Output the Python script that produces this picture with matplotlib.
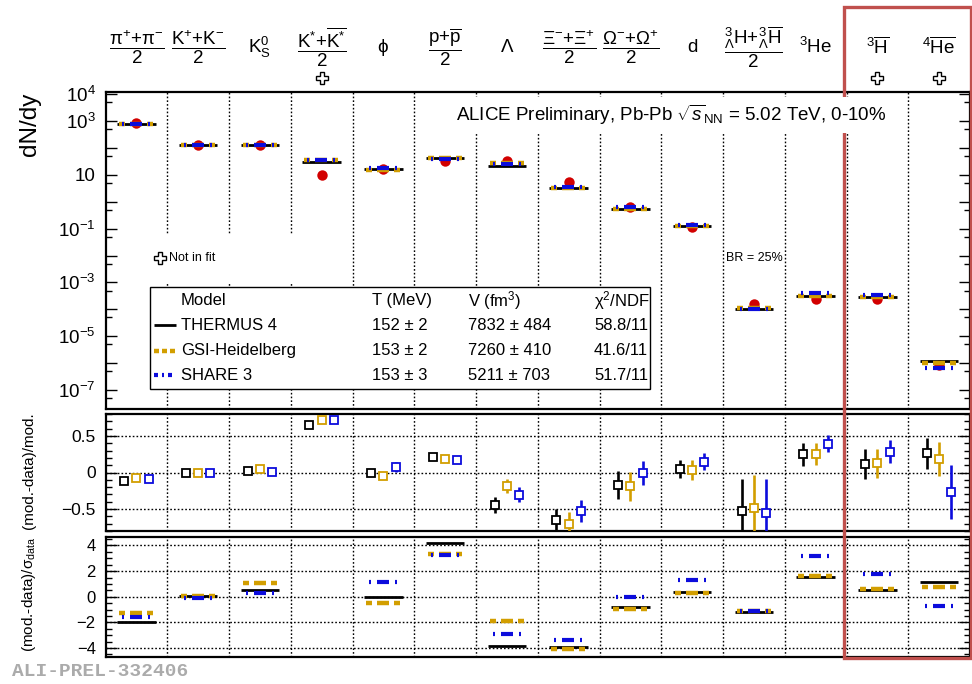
import numpy as np
import matplotlib
matplotlib.use("Agg")
import matplotlib.pyplot as plt
from matplotlib.lines import Line2D
from matplotlib.patches import Rectangle
from matplotlib.ticker import FixedLocator, FixedFormatter, NullFormatter, MultipleLocator

plt.rcParams["font.family"] = ["Liberation Sans", "DejaVu Sans"]
plt.rcParams["mathtext.fontset"] = "custom"
plt.rcParams["mathtext.rm"] = "Liberation Sans"
plt.rcParams["mathtext.it"] = "Liberation Sans:italic"
plt.rcParams["mathtext.bf"] = "Liberation Sans:bold"
plt.rcParams["mathtext.sf"] = "Liberation Sans"
plt.rcParams["lines.scale_dashes"] = False

# ---------------------------------------------------------------- data
species = [
    r"$\dfrac{\mathrm{\pi}^{+}{+}\mathrm{\pi}^{-}}{2}$",
    r"$\dfrac{\mathrm{K}^{+}{+}\mathrm{K}^{-}}{2}$",
    r"$\mathrm{K}^{0}_{\mathrm{S}}$",
    r"$\dfrac{\mathrm{K}^{*}{+}\overline{\mathrm{K}^{*}}}{2}$",
    r"$\mathrm{\phi}$",
    r"$\dfrac{\mathrm{p}{+}\overline{\mathrm{p}}}{2}$",
    r"$\Lambda$",
    r"$\dfrac{\Xi^{-}{+}\Xi^{+}}{2}$",
    r"$\dfrac{\Omega^{-}{+}\Omega^{+}}{2}$",
    "d",
    r"$\dfrac{{}^{3}_{\Lambda}\mathrm{H}{+}{}^{3}_{\Lambda}\overline{\mathrm{H}}}{2}$",
    r"$^{3}$He",
    r"$^{3}\overline{\mathrm{H}}$",
    r"$^{4}\overline{\mathrm{He}}$",
]
not_in_fit = [3, 12, 13]

# measured dN/dy
data_yield = [860, 127, 126, 10.2, 16.0, 33.5, 32.0, 5.4, 0.63, 0.12,
              1.6e-4, 2.35e-4, 2.5e-4, 8.5e-7]

# (model - data) / model
res_thermus = [-0.11, 0.0, 0.015, 0.655, 0.0, 0.21, -0.44, -0.645, -0.17, 0.05,
               -0.53, 0.25, 0.115, 0.26]
res_gsi = [-0.07, 0.0, 0.045, 0.718, -0.045, 0.18, -0.186, -0.705, -0.19, 0.036,
           -0.48, 0.255, 0.127, 0.186]
res_share = [-0.09, 0.0, 0.01, 0.718, 0.08, 0.168, -0.305, -0.523, -0.01, 0.15,
             -0.55, 0.395, 0.286, -0.264]
err_thermus = [0.01, 0.01, 0.01, 0.01, 0.045, 0.01, 0.11, 0.15, 0.195, 0.125,
               0.44, 0.155, 0.20, 0.21]
err_gsi = [0.01, 0.01, 0.01, 0.01, 0.05, 0.01, 0.10, 0.16, 0.20, 0.135,
           0.44, 0.15, 0.20, 0.235]
err_share = [0.01, 0.01, 0.01, 0.01, 0.07, 0.01, 0.10, 0.15, 0.165, 0.115,
             0.455, 0.12, 0.16, 0.37]

# (model - data) / sigma_data   (K* is not part of the fit)
nan = np.nan
dev_thermus = [-1.96, 0.05, 0.50, nan, 0.0, 4.19, -3.87, -3.90, -0.81, 0.39,
               -1.18, 1.57, 0.55, 1.18]
dev_gsi = [-1.30, 0.07, 1.10, nan, -0.47, 3.35, -1.93, -4.10, -0.94, 0.31,
           -1.12, 1.65, 0.60, 0.78]
dev_share = [-1.57, -0.08, 0.31, nan, 1.13, 3.25, -2.90, -3.40, -0.05, 1.28,
             -1.12, 3.19, 1.78, -0.73]

models = ["THERMUS 4", "GSI-Heidelberg", "SHARE 3"]
temps = ["152 ± 2", "153 ± 2", "153 ± 3"]
volumes = ["7832 ± 484", "7260 ± 410", "5211 ± 703"]
chi2 = ["58.8/11", "41.6/11", "51.7/11"]

# ---------------------------------------------------------------- styles
GOLD = "#d29e00"
BLUE = "#0c0cdc"
RED = "#d20000"
BOX = "#c0504d"
px = 0.72  # points per pixel at 100 dpi

line_styles = [
    dict(color="black", lw=2.0, solid_capstyle="butt", zorder=4),
    dict(color=GOLD, lw=3.2,
         linestyle=(36 * px, (6 * px, 5 * px, 12 * px, 5 * px, 6 * px, 4 * px)), zorder=5),
    dict(color=BLUE, lw=3.0,
         linestyle=(33 * px, (2 * px, 6 * px, 12 * px, 6 * px, 2 * px, 10 * px)), zorder=6),
]
marker_colors = ["black", GOLD, BLUE]
grid_ls = (0, (1.2, 1.5))

W, H = 972, 684


def fx(x):
    return x / W


def fy(y):
    return 1 - y / H


L, R = 105.5, 970.0


def rect(top, bottom):
    return [fx(L), fy(bottom), (R - L) / W, (bottom - top) / H]


fig = plt.figure(figsize=(W / 100, H / 100), dpi=100)
ax_top = fig.add_axes(rect(92, 409))
ax_mid = fig.add_axes(rect(414, 531))
ax_bot = fig.add_axes(rect(536.5, 657))

n = len(species)
centers = np.arange(n) + 0.5

for ax in (ax_top, ax_mid, ax_bot):
    ax.set_xlim(0, n)
    ax.set_xticks(np.arange(1, n))
    ax.tick_params(axis="x", length=0, labelbottom=False)
    ax.grid(axis="x", color="black", lw=1.0, linestyle=grid_ls)
    ax.set_axisbelow(True)
    for s in ax.spines.values():
        s.set_linewidth(1.6)


def draw_models(ax, series):
    for vals, st in zip(series, line_styles):
        for i, v in enumerate(vals):
            if np.isnan(v):
                continue
            ax.plot([i + 0.19, i + 0.81], [v, v], **st)


# ---------------------------------------------------------------- top panel
ax_top.set_yscale("log")
ax_top.set_ylim(10 ** -7.71, 10 ** 4.085)
exps = np.arange(-7, 5)
labelled = {4: r"$10^{4}$", 3: r"$10^{3}$", 1: "10", -1: r"$10^{-1}$",
            -3: r"$10^{-3}$", -5: r"$10^{-5}$", -7: r"$10^{-7}$"}
ax_top.yaxis.set_major_locator(FixedLocator(10.0 ** exps))
ax_top.yaxis.set_major_formatter(FixedFormatter([labelled.get(e, "") for e in exps]))
ax_top.yaxis.set_minor_locator(FixedLocator(5 * 10.0 ** np.arange(-8, 4)))
ax_top.yaxis.set_minor_formatter(NullFormatter())
ax_top.tick_params(axis="y", which="major", direction="in", length=8, width=1.0,
                   left=True, right=True, labelsize=13.5, pad=7)
ax_top.tick_params(axis="y", which="minor", direction="in", length=4, width=1.0,
                   left=True, right=True)

data_yield_arr = np.array(data_yield)
model_yields = [data_yield_arr / (1 - np.array(r)) for r in (res_thermus, res_gsi, res_share)]
ax_top.plot(centers, data_yield_arr, "o", color=RED, ms=7.5, mec="none", zorder=3)
draw_models(ax_top, model_yields)

# ---------------------------------------------------------------- middle panel
ax_mid.set_ylim(-0.8, 0.8)
ax_mid.set_yticks([-0.5, 0, 0.5])
ax_mid.set_yticklabels(["\u22120.5", "0", "0.5"])
ax_mid.yaxis.set_minor_locator(MultipleLocator(0.1))
ax_mid.grid(axis="y", color="black", lw=1.0, linestyle=grid_ls)
ax_mid.tick_params(axis="y", which="major", direction="in", length=8, width=1.0,
                   left=True, right=True, labelsize=12.5, pad=7)
ax_mid.tick_params(axis="y", which="minor", direction="in", length=4, width=1.0,
                   left=True, right=True)
for k, (res, err) in enumerate(zip((res_thermus, res_gsi, res_share),
                                   (err_thermus, err_gsi, err_share))):
    ax_mid.errorbar(centers + (k - 1) * 0.2, res, yerr=err, fmt="s", ms=5.2,
                    mfc="white", mec=marker_colors[k], mew=1.3,
                    ecolor=marker_colors[k], elinewidth=1.9, capsize=0, zorder=4 + k)

# ---------------------------------------------------------------- bottom panel
ax_bot.set_ylim(-4.7, 4.7)
ax_bot.set_yticks([-4, -2, 0, 2, 4])
ax_bot.set_yticklabels(["\u22124", "\u22122", "0", "2", "4"])
ax_bot.yaxis.set_minor_locator(MultipleLocator(0.5))
ax_bot.grid(axis="y", color="black", lw=1.0, linestyle=grid_ls)
ax_bot.tick_params(axis="y", which="major", direction="in", length=8, width=1.0,
                   left=True, right=True, labelsize=12, pad=7)
ax_bot.tick_params(axis="y", which="minor", direction="in", length=4, width=1.0,
                   left=True, right=True)
draw_models(ax_bot, [np.array(d, float) for d in (dev_thermus, dev_gsi, dev_share)])

# ---------------------------------------------------------------- axis titles
fig.text(fx(30), fy(93), "dN/dy", rotation=90, ha="center", va="top", fontsize=17.5)
fig.text(fx(29), fy(471), "(mod.-data)/mod.", rotation=90, ha="center",
         va="center", fontsize=11)
fig.text(fx(29), fy(594), r"(mod.-data)/$\mathrm{\sigma}_{\mathrm{data}}$", rotation=90,
         ha="center", va="center", fontsize=11)

# ---------------------------------------------------------------- species labels
bin_w = (R - L) / n
for i, lab in enumerate(species):
    fig.text(fx(L + (i + 0.5) * bin_w), fy(47), lab, ha="center", va="center",
             fontsize=13.5)


def open_cross(x, y):
    fig.add_artist(Line2D([fx(x)], [fy(y)], marker="P", ms=8, mfc="white",
                          mec="black", mew=1.0, ls="none",
                          transform=fig.transFigure))


for i in not_in_fit:
    open_cross(L + (i + 0.5) * bin_w, 78)

# ---------------------------------------------------------------- annotations
fig.text(fx(456), fy(115),
         r"ALICE Preliminary, Pb-Pb $\sqrt{s}_{\mathrm{NN}}$ = 5.02 TeV, 0-10%",
         fontsize=13.5, va="center", ha="left",
         bbox=dict(fc="white", ec="none", pad=4))

fig.add_artist(Rectangle((fx(150), fy(282)), (335 - 150) / W, (282 - 235) / H,
                         transform=fig.transFigure, fc="white", ec="none"))
open_cross(160, 258)
fig.text(fx(169), fy(258), "Not in fit", fontsize=9, va="center")
fig.text(fx(726), fy(258), "BR = 25%", fontsize=9, va="center")

# legend table
fig.add_artist(Rectangle((fx(150), fy(389)), (650 - 150) / W, (389 - 287) / H,
                         transform=fig.transFigure, fc="white", ec="black", lw=1.0))
cols = [181, 372, 468, 594]
rows = [300.5, 325, 350.5, 375.5]
for x, t in zip(cols, ["Model", "T (MeV)", r"V (fm$^{3}$)", r"$\mathrm{\chi}^{2}$/NDF"]):
    fig.text(fx(x), fy(rows[0]), t, fontsize=12, va="center")
legend_dash = [None, (0, (5 * px, 3 * px)), (0, (4 * px, 4 * px, 2 * px, 4 * px))]
for k in range(3):
    y = rows[k + 1]
    st = dict(line_styles[k])
    st.pop("zorder")
    if legend_dash[k] is not None:
        st["linestyle"] = legend_dash[k]
    fig.add_artist(Line2D([fx(154), fx(176)], [fy(y), fy(y)],
                          transform=fig.transFigure, **st))
    for x, t in zip(cols, [models[k], temps[k], volumes[k], chi2[k]]):
        fig.text(fx(x), fy(y), t, fontsize=12, va="center")

# highlight box around the anti-nuclei
fig.add_artist(Rectangle((fx(843.5), fy(657.5)), (970.5 - 843.5) / W, (657.5 - 7) / H,
                         transform=fig.transFigure, fill=False, ec=BOX, lw=2.4))

fig.text(fx(12), fy(672), "ALI-PREL-332406", family="Liberation Mono",
         weight="bold", color="#ababab", fontsize=14, va="center")

fig.savefig("out.png", dpi=100)
